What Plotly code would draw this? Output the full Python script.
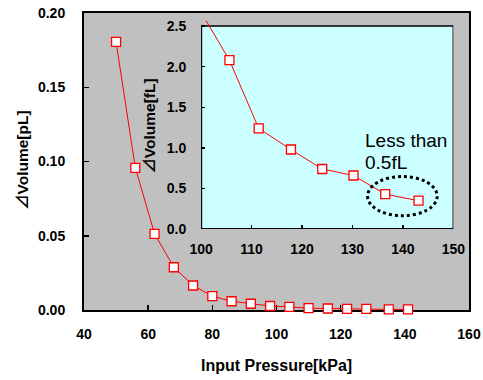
import plotly.graph_objects as go

# Main chart data (Input Pressure [kPa] vs ΔVolume [pL])
main_pressure = [50, 56, 62, 68, 74, 80, 86, 92, 98, 104, 110, 116, 122, 128, 135, 141]
main_volume_pl = [0.1805, 0.0957, 0.0513, 0.0288, 0.0165, 0.0093, 0.0059, 0.0042,
                  0.0027, 0.0021, 0.0012, 0.0010, 0.0007, 0.0007, 0.0004, 0.0004]

# Inset data (Input Pressure [kPa] vs ΔVolume [fL])
inset_pressure = [97.8, 105.6, 111.4, 117.8, 124.0, 130.2, 136.5, 143.1]
inset_volume_fl = [2.9, 2.08, 1.24, 0.98, 0.74, 0.66, 0.43, 0.35]

main_xticks = [40, 60, 80, 100, 120, 140, 160]
main_yticks = [0.00, 0.05, 0.10, 0.15, 0.20]
inset_xticks = [100, 110, 120, 130, 140, 150]
inset_yticks = [0.0, 0.5, 1.0, 1.5, 2.0, 2.5]

FONT = "Arial, 'Liberation Sans', 'Noto Sans CJK JP', sans-serif"
W, H = 483, 380
ML, MR, MT, MB = 84, 14, 13, 70

def px_to_paper_x(px):
    return (px - ML) / (W - ML - MR)

def px_to_paper_y(py):
    return (H - MB - py) / (H - MT - MB)

marker = dict(symbol="square", size=9, color="white", line=dict(color="red", width=1.3))

fig = go.Figure()
fig.add_trace(go.Scatter(
    x=main_pressure, y=main_volume_pl, mode="lines+markers",
    line=dict(color="red", width=1), marker=marker, cliponaxis=False,
    xaxis="x", yaxis="y", showlegend=False, hoverinfo="skip"))
fig.add_trace(go.Scatter(
    x=inset_pressure, y=inset_volume_fl, mode="lines+markers",
    line=dict(color="red", width=1), marker=marker,
    xaxis="x2", yaxis="y2", showlegend=False, hoverinfo="skip"))

tickfont = dict(family=FONT, size=14, color="black", weight="bold")

fig.update_layout(
    width=W, height=H,
    margin=dict(l=ML, r=MR, t=MT, b=MB, pad=0, autoexpand=False),
    paper_bgcolor="white", plot_bgcolor="#C0C0C0",
    xaxis=dict(range=[40, 160], tickvals=main_xticks, ticks="inside", ticklen=5,
               tickwidth=1.5, tickcolor="black", showline=True, linewidth=2,
               linecolor="black", mirror=True, showgrid=False, zeroline=False,
               tickfont=tickfont, ticklabelstandoff=10, layer="below traces",
               domain=[0, 1], automargin=False, fixedrange=True),
    yaxis=dict(range=[0, 0.2], tickvals=main_yticks, tickformat=".2f", ticks="inside",
               ticklen=5, tickwidth=1.5, tickcolor="black", showline=True, linewidth=2,
               linecolor="black", mirror=True, showgrid=False, zeroline=False,
               tickfont=tickfont, ticklabelstandoff=14, layer="below traces",
               domain=[0, 1], automargin=False, fixedrange=True),
    xaxis2=dict(range=[100, 150], tickvals=inset_xticks, ticks="inside", ticklen=4,
                tickwidth=1.5, tickcolor="black", showline=False, showgrid=False,
                zeroline=False, tickfont=tickfont, ticklabelstandoff=10,
                anchor="y2", domain=[px_to_paper_x(201.2), px_to_paper_x(453.3)],
                automargin=False, fixedrange=True),
    yaxis2=dict(range=[0, 2.57], tickvals=inset_yticks, tickformat=".1f", ticks="inside",
                ticklen=4, tickwidth=1.5, tickcolor="black", showline=False,
                showgrid=False, zeroline=False, tickfont=tickfont, ticklabelstandoff=14,
                anchor="x2", domain=[px_to_paper_y(229.1), px_to_paper_y(20.4)],
                automargin=False, fixedrange=True),
)

# Inset frame: cyan background and border
fig.add_shape(type="rect", xref="x2", yref="y2", x0=100, x1=150, y0=0, y1=2.5,
              fillcolor="#CCFFFF", line=dict(color="black", width=1.5), layer="below")
fig.add_shape(type="line", xref="x2", yref="y2", x0=100, x1=100, y0=0, y1=2.5,
              line=dict(color="black", width=2), layer="below")
fig.add_shape(type="line", xref="x2", yref="y2", x0=100, x1=150, y0=0, y1=0,
              line=dict(color="black", width=2), layer="below")

# Dotted ellipse around the last two inset points
fig.add_shape(type="circle", xref="x2", yref="y2", x0=133.0, x1=146.8, y0=0.164, y1=0.648,
              line=dict(color="black", width=3, dash="dot"), layer="above")

titlefont = dict(family=FONT, size=15.5, color="black", weight="bold")
fig.add_annotation(text="⊿Volume[pL]", xref="paper", yref="paper",
                   x=px_to_paper_x(22), y=px_to_paper_y(160), textangle=-90,
                   showarrow=False, font=titlefont, xanchor="center", yanchor="middle")
fig.add_annotation(text="⊿Volume[fL]", xref="paper", yref="paper",
                   x=px_to_paper_x(150), y=px_to_paper_y(126.7), textangle=-90,
                   showarrow=False, font=titlefont, xanchor="center", yanchor="middle")
fig.add_annotation(text="Input Pressure[kPa]", xref="paper", yref="paper",
                   x=px_to_paper_x(276), y=px_to_paper_y(365),
                   showarrow=False, font=dict(titlefont, size=16),
                   xanchor="center", yanchor="middle")

notefont = dict(family=FONT, size=19, color="black")
fig.add_annotation(text="Less than", xref="x2", yref="y2", x=132.1, y=1.097,
                   showarrow=False, font=notefont, xanchor="left", yanchor="middle")
fig.add_annotation(text="0.5fL", xref="x2", yref="y2", x=132.1, y=0.818,
                   showarrow=False, font=notefont, xanchor="left", yanchor="middle")

fig.write_html("out.html", config={"displayModeBar": False, "staticPlot": True},
               post_script="document.body.style.margin='0';")
